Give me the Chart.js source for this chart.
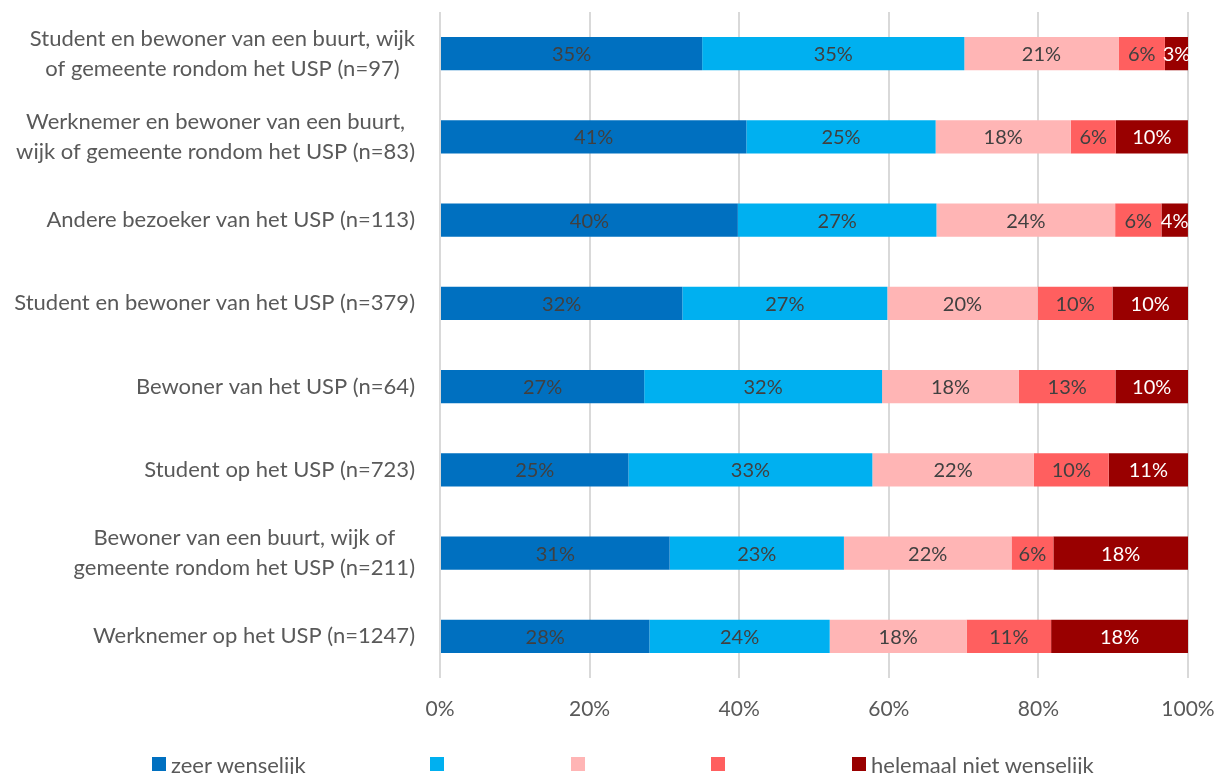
<!DOCTYPE html>
<html>
<head>
<meta charset="utf-8">
<script src="https://cdn.jsdelivr.net/npm/chart.js@4/dist/chart.umd.min.js"></script>
<style>
  body { margin: 0; background: #fff; font-family: Lato, sans-serif; overflow: hidden; }
  #wrap { position: relative; width: 1229px; height: 774px; }
  #legend { position: absolute; left: 152px; top: 752px; height: 24px; display: flex; align-items: center; color: #595959; font-size: 22px; }
  #legend .item { display: flex; align-items: center; white-space: nowrap; }
  #legend .box { width: 14px; height: 14px; margin-right: 5px; }
</style>
</head>
<body>
<div id="wrap">
  <canvas id="chart" width="1229" height="774"></canvas>
  <div id="legend"></div>
</div>
<script>
const categories = [
    ['Student en bewoner van een buurt, wijk', 'of gemeente rondom het USP (n=97)'],
    ['Werknemer en bewoner van een buurt,', 'wijk of gemeente rondom het USP (n=83)'],
    ['Andere bezoeker van het USP (n=113)'],
    ['Student en bewoner van het USP (n=379)'],
    ['Bewoner van het USP (n=64)'],
    ['Student op het USP (n=723)'],
    ['Bewoner van een buurt, wijk of', 'gemeente rondom het USP (n=211)'],
    ['Werknemer op het USP (n=1247)']
];

const zeer_wenselijk = [35.05, 40.96, 39.82, 32.4, 27.3, 25.2, 30.7, 28.0];
const wenselijk = [35.05, 25.30, 26.55, 27.4, 31.8, 32.6, 23.3, 24.1];
const neutraal = [20.62, 18.07, 23.89, 20.1, 18.3, 21.6, 22.4, 18.3];
const onwenselijk = [6.19, 6.02, 6.19, 10.0, 12.9, 10.0, 5.6, 11.3];
const helemaal_niet = [3.09, 9.64, 3.54, 10.1, 9.7, 10.6, 18.0, 18.3];

const series_labels = ['zeer wenselijk', '', '', '', 'helemaal niet wenselijk'];
const series_values = [zeer_wenselijk, wenselijk, neutraal, onwenselijk, helemaal_niet];
const colors = ['#0070C0', '#00B0F0', '#FFB5B5', '#FF5F5F', '#990000'];
const label_colors = ['#404040', '#404040', '#404040', '#404040', '#ffffff'];

const x_ticks = [0, 20, 40, 60, 80, 100];

const font_family = 'Lato, sans-serif';
const text_color = '#595959';

// labels inside the segments
const segment_labels = {
    id: 'segment_labels',
    afterDatasetsDraw(chart) {
        const ctx = chart.ctx;
        ctx.save();
        ctx.font = '20px ' + font_family;
        ctx.textAlign = 'center';
        ctx.textBaseline = 'middle';
        chart.data.datasets.forEach((ds, i) => {
            chart.getDatasetMeta(i).data.forEach((bar, j) => {
                ctx.fillStyle = label_colors[i];
                ctx.fillText(Math.round(ds.data[j]) + '%', (bar.x + bar.base) / 2, bar.y + 1);
            });
        });
        ctx.restore();
    }
};

// category labels, each block centered on its longest line
const category_labels = {
    id: 'category_labels',
    afterDraw(chart) {
        const ctx = chart.ctx;
        const y_scale = chart.scales.y;
        const right = 415;
        const line_height = 30;
        ctx.save();
        ctx.font = '22px ' + font_family;
        ctx.fillStyle = text_color;
        ctx.textAlign = 'center';
        ctx.textBaseline = 'middle';
        categories.forEach((lines, i) => {
            const y = y_scale.getPixelForValue(i);
            const max_w = Math.max(...lines.map(l => ctx.measureText(l).width));
            const cx = right - max_w / 2;
            lines.forEach((l, k) => {
                ctx.fillText(l, cx, y + (k - (lines.length - 1) / 2) * line_height);
            });
        });
        ctx.restore();
    }
};

const ctx = document.getElementById('chart').getContext('2d');
new Chart(ctx, {
    type: 'bar',
    data: {
        labels: categories.map(c => c.join(' ')),
        datasets: series_values.map((values, i) => ({
            label: series_labels[i],
            data: values,
            backgroundColor: colors[i],
            borderWidth: 0,
            barPercentage: 0.5,
            categoryPercentage: 0.8
        }))
    },
    options: {
        indexAxis: 'y',
        responsive: false,
        animation: false,
        layout: { padding: { top: 12, right: 41, bottom: 0, left: 0 } },
        plugins: {
            legend: { display: false },
            tooltip: { enabled: false }
        },
        scales: {
            x: {
                stacked: true,
                min: 0,
                max: 100,
                afterBuildTicks: s => { s.ticks = x_ticks.map(v => ({ value: v })); },
                afterFit: s => { s.height = 96; s.paddingRight = 0; },
                ticks: {
                    callback: v => v + '%',
                    color: text_color,
                    font: { family: font_family, size: 21 },
                    padding: 19,
                    maxRotation: 0
                },
                grid: { color: '#d9d9d9', lineWidth: 2, drawTicks: false },
                border: { display: false }
            },
            y: {
                stacked: true,
                afterFit: s => { s.width = 440; },
                ticks: { display: false },
                grid: { display: false },
                border: { display: false }
            }
        }
    },
    plugins: [segment_labels, category_labels]
});

// legend built from the same series arrays
const legend = document.getElementById('legend');
const item_widths = [278, 141, 140, 141, null];
series_labels.forEach((label, i) => {
    const item = document.createElement('div');
    item.className = 'item';
    if (item_widths[i]) item.style.width = item_widths[i] + 'px';
    const box = document.createElement('span');
    box.className = 'box';
    box.style.background = colors[i];
    item.appendChild(box);
    const text = document.createElement('span');
    text.textContent = label;
    item.appendChild(text);
    legend.appendChild(item);
});
</script>
</body>
</html>
